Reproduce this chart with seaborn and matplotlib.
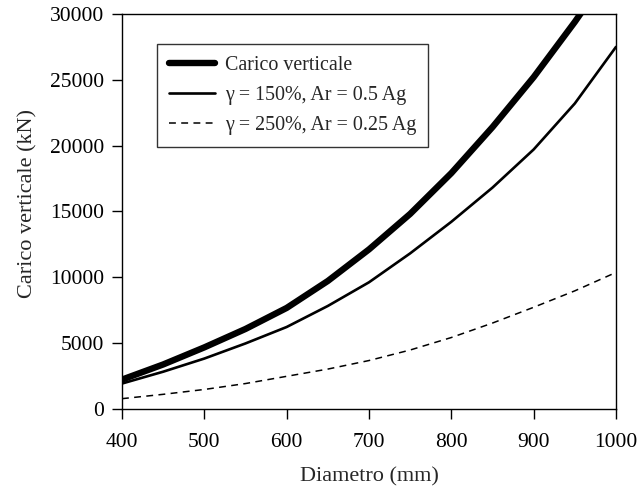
import matplotlib
matplotlib.use("Agg")
import matplotlib.pyplot as plt
import seaborn as sns
import pandas as pd

diametro = [400, 450, 500, 550, 600, 650, 700, 750, 800, 850, 900, 950, 960]
carico_verticale = [2200, 3350, 4650, 6050, 7650, 9700, 12100, 14800, 17900, 21400, 25200, 29400, 30300]

diametro_b = [400, 450, 500, 550, 600, 650, 700, 750, 800, 850, 900, 950, 1000]
gamma150 = [1900, 2800, 3800, 4950, 6200, 7800, 9600, 11800, 14200, 16800, 19700, 23200, 27500]
gamma250 = [750, 1080, 1450, 1900, 2450, 3000, 3650, 4450, 5400, 6500, 7700, 8950, 10350]

labels = ["Carico verticale", "γ = 150%, Ar = 0.5 Ag", "γ = 250%, Ar = 0.25 Ag"]
xticks = [400, 500, 600, 700, 800, 900, 1000]
yticks = [0, 5000, 10000, 15000, 20000, 25000, 30000]

sns.set_style("ticks")
plt.rcParams['font.family'] = ['Liberation Serif', 'DejaVu Serif']

fig = plt.figure(figsize=(6.4, 4.97), dpi=100)
ax = fig.add_axes([0.1906, 0.178, 0.7719, 0.7938])

df1 = pd.DataFrame({"x": diametro, "y": carico_verticale})
df2 = pd.DataFrame({"x": diametro_b, "y": gamma150})
df3 = pd.DataFrame({"x": diametro_b, "y": gamma250})

sns.lineplot(data=df1, x="x", y="y", ax=ax, color="black", lw=4.6, label=labels[0])
sns.lineplot(data=df2, x="x", y="y", ax=ax, color="black", lw=1.9, label=labels[1])
sns.lineplot(data=df3, x="x", y="y", ax=ax, color="black", lw=1.1, label=labels[2])
ax.lines[2].set_dashes([4.5, 3.5])

ax.set_xlim(400, 1000)
ax.set_ylim(0, 30000)
ax.set_xticks(xticks)
ax.set_yticks(yticks)
ax.tick_params(axis="x", direction="out", length=7.5, width=1, labelsize=15.5, colors="black", pad=10)
ax.tick_params(axis="y", direction="out", length=7.5, width=1, labelsize=15.5, colors="black", pad=5.5)
for s in ax.spines.values():
    s.set_visible(True)
    s.set_linewidth(1.0)
    s.set_color("black")

ax.set_xlabel("Diametro (mm)", fontsize=16, labelpad=11)
ax.set_ylabel("Carico verticale (kN)", fontsize=16)
ax.yaxis.set_label_coords(-0.172, 0.52)

leg = ax.legend(loc="upper left", bbox_to_anchor=(0.071, 0.925), borderaxespad=0, fontsize=14.4,
                frameon=True, fancybox=False, edgecolor="black", handlelength=2.3,
                borderpad=0.6, labelspacing=0.55, handletextpad=0.5)
leg.get_frame().set_linewidth(1.0)
leg.get_lines()[2].set_dashes([4.5, 3.5])

fig.savefig("out.png", dpi=100)
